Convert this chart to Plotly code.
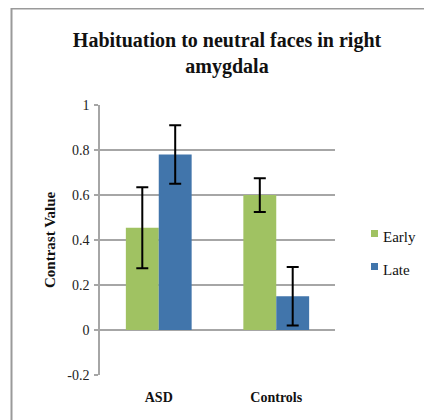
import plotly.graph_objects as go

categories = ["ASD", "Controls"]
series_names = ["Early", "Late"]
early_values = [0.455, 0.60]
late_values = [0.78, 0.15]
early_err = [0.18, 0.075]
late_err = [0.13, 0.13]
y_ticks = [-0.2, 0, 0.2, 0.4, 0.6, 0.8, 1]
y_tick_labels = ["-0.2", "0", "0.2", "0.4", "0.6", "0.8", "1"]

GREEN = "#A0C262"
BLUE = "#4175AB"
SERIF = "Liberation Serif, Times New Roman, serif"

fig = go.Figure()
fig.add_trace(go.Bar(
    name=series_names[0], x=categories, y=early_values, marker_color=GREEN,
    marker_line_width=0, showlegend=False,
    error_y=dict(type="data", array=early_err, visible=True, color="black", thickness=2, width=6),
))
fig.add_trace(go.Bar(
    name=series_names[1], x=categories, y=late_values, marker_color=BLUE,
    marker_line_width=0, showlegend=False,
    error_y=dict(type="data", array=late_err, visible=True, color="black", thickness=2, width=6),
))

OFF = 8  # page body margin
W, H = 432 - OFF, 420 - OFF
# plot area in page pixels: x 100..335, y 105..375
L, R, T, B = 100 - OFF, 432 - 335, 105 - OFF, 420 - 375
pw = W - L - R
ph = H - T - B

def px_x(p):
    return (p - OFF - L) / pw

def px_y(p):
    return (H - B - (p - OFF)) / ph

# manual legend (small squares next to serif labels)
legend_rows = [(series_names[0], GREEN, 237), (series_names[1], BLUE, 270)]
shapes = [
    dict(type="line", xref="paper", yref="paper",
         x0=px_x(11), x1=px_x(440), y0=px_y(8.5), y1=px_y(8.5),
         line=dict(color="#9A9A9A", width=2)),
    dict(type="line", xref="paper", yref="paper",
         x0=px_x(11.5), x1=px_x(11.5), y0=px_y(8), y1=px_y(430),
         line=dict(color="#9A9A9A", width=2)),
]
annotations = [dict(
    text="<b>Contrast Value</b>", textangle=-90,
    xref="paper", yref="paper", x=px_x(50), y=px_y(240),
    xanchor="center", yanchor="middle", showarrow=False,
    font=dict(family=SERIF, size=15, color="#111111"),
)]
for name, col, yc in legend_rows:
    shapes.append(dict(type="rect", xref="paper", yref="paper",
                       x0=px_x(371), x1=px_x(378), y0=px_y(yc - 7), y1=px_y(yc),
                       fillcolor=col, line=dict(width=0)))
    annotations.append(dict(
        text=name, xref="paper", yref="paper", x=px_x(381), y=px_y(yc),
        xanchor="left", yanchor="middle", showarrow=False,
        font=dict(family=SERIF, size=15, color="#111111"),
    ))

fig.update_layout(
    width=W, height=H,
    margin=dict(l=L, r=R, t=T, b=B),
    paper_bgcolor="white", plot_bgcolor="white",
    barmode="group", bargap=0.44, bargroupgap=0,
    font=dict(family=SERIF, color="#222222"),
    title=dict(
        text="<b>Habituation to neutral faces in right<br>amygdala</b>",
        x=(227 - OFF) / W, xanchor="center", y=1 - (47 - OFF) / H, yanchor="middle",
        font=dict(family=SERIF, size=20, color="#111111"),
    ),
    showlegend=False,
    yaxis=dict(
        range=[-0.2, 1], tickvals=y_ticks, ticktext=y_tick_labels,
        showgrid=True, gridcolor="#A6A6A6", gridwidth=1.5,
        zeroline=False, showline=True, linecolor="#A6A6A6", linewidth=1.5,
        ticks="outside", ticklen=4, tickcolor="#A6A6A6", tickwidth=1.5,
        ticklabelstandoff=2,
        tickfont=dict(family=SERIF, size=14, color="#222222"),
    ),
    xaxis=dict(
        showgrid=False, showline=False, zeroline=False,
        ticks="outside", ticklen=9, tickcolor="rgba(0,0,0,0)",
        tickvals=categories, ticktext=["<b>" + c + "</b>" for c in categories],
        tickfont=dict(family=SERIF, size=14, color="#111111"),
    ),
    annotations=annotations,
    shapes=shapes,
)

fig.write_html("out.html")
